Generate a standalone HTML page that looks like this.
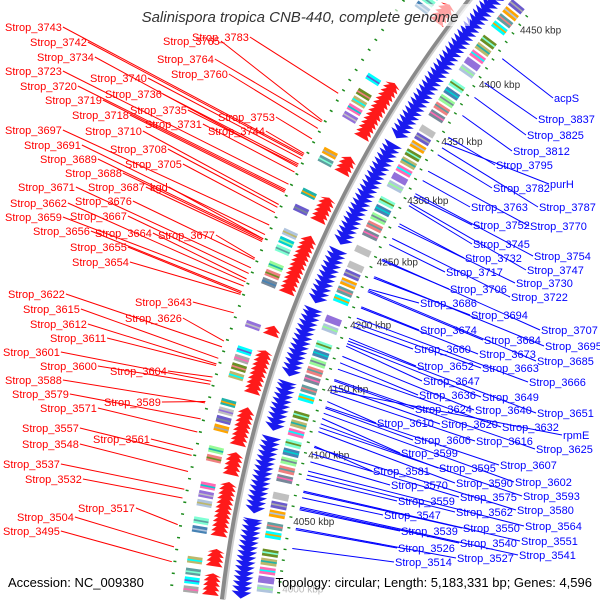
<!DOCTYPE html>
<html><head><meta charset="utf-8"><style>
html,body{margin:0;padding:0;background:#fff;overflow:hidden;width:600px;height:600px;}
svg{display:block;font-family:"Liberation Sans",sans-serif;overflow:hidden;}
</style></head><body>
<svg id="map" width="600" height="600" viewBox="0 0 600 600" xmlns="http://www.w3.org/2000/svg">
<g id="rings"></g>
<g id="lines"></g>
<g id="labels"></g>
<rect x="130" y="4" width="340" height="22" fill="#fff" opacity="0.6"/>
<text x="300" y="22" text-anchor="middle" font-size="15" font-style="italic" fill="#333">Salinispora tropica CNB-440, complete genome</text>
<text x="8" y="587" font-size="13" fill="#000">Accession: NC_009380</text>
<text x="592" y="587" text-anchor="end" font-size="13" fill="#000">Topology: circular; Length: 5,183,331 bp; Genes: 4,596</text>
</svg>
<script>
// genome positions (kbp)
const redSegments = [[4418,4431],[4323,4365],[4295,4306],[4258,4274],[4204,4245],[4173,4178],[4131,4160],[4094,4119],[4073,4087],[4030,4066],[4009,4019],[3989,4002]];
const blueSegments = [[4335,4465],[4250,4331],[4205,4246],[4150,4201],[4110,4146],[4050,4106],[3989,4046]];
const kbpTicks = [4000,4050,4100,4150,4200,4250,4300,4350,4400,4450];
const redNames = ["Strop_3743","Strop_3742","Strop_3765","Strop_3783","Strop_3734","Strop_3764","Strop_3723","Strop_3760","Strop_3740","Strop_3720","Strop_3736","Strop_3719","Strop_3735","Strop_3718","Strop_3753","Strop_3731","Strop_3697","Strop_3710","Strop_3744","Strop_3691","Strop_3708","Strop_3689","Strop_3705","Strop_3688","Strop_3671","Strop_3687","kgd","Strop_3676","Strop_3662","Strop_3667","Strop_3659","Strop_3664","Strop_3677","Strop_3656","Strop_3655","Strop_3654","Strop_3622","Strop_3643","Strop_3615","Strop_3626","Strop_3612","Strop_3611","Strop_3601","Strop_3600","Strop_3604","Strop_3588","Strop_3579","Strop_3589","Strop_3571","Strop_3557","Strop_3561","Strop_3548","Strop_3537","Strop_3532","Strop_3517","Strop_3504","Strop_3495"];
const redKbp = [4294,4293,4320,4341,4285,4319,4272,4314,4291,4268,4287,4267,4286,4266,4306,4281,4242,4257,4295,4235,4255,4232,4251,4231,4211,4230,4232,4217,4201,4207,4198,4203,4218,4194,4193,4192,4155,4179,4147,4159,4143,4142,4131,4129,4134,4116,4105,4117,4096,4080,4084,4069,4057,4051,4033,4018,4008];
const redLabelX = [5,30,163,192,37,157,5,171,90,20,105,45,130,72,218,145,5,85,208,24,110,40,125,65,18,88,150,75,10,70,5,95,158,33,70,72,8,135,23,125,30,50,3,40,110,5,12,104,40,22,93,22,3,25,78,17,3];
const redLabelY = [27,42,41,37,57,59,71,74,78,86,94,100,110,115,117,124,130,131,131,145,149,159,164,173,187,187,187,201,203,216,217,233,235,231,247,262,294,302,309,318,324,338,352,366,371,380,394,402,408,428,439,444,464,479,508,517,531];
const blueNames = ["acpS","Strop_3837","Strop_3825","Strop_3812","Strop_3795","purH","Strop_3782","Strop_3787","Strop_3763","Strop_3752","Strop_3770","Strop_3745","Strop_3754","Strop_3732","Strop_3747","Strop_3717","Strop_3730","Strop_3706","Strop_3722","Strop_3686","Strop_3694","Strop_3707","Strop_3674","Strop_3684","Strop_3695","Strop_3660","Strop_3673","Strop_3685","Strop_3652","Strop_3663","Strop_3647","Strop_3666","Strop_3636","Strop_3649","Strop_3624","Strop_3640","Strop_3651","Strop_3610","Strop_3620","Strop_3632","rpmE","Strop_3606","Strop_3616","Strop_3625","Strop_3599","Strop_3595","Strop_3607","Strop_3581","Strop_3590","Strop_3602","Strop_3570","Strop_3593","Strop_3575","Strop_3559","Strop_3562","Strop_3580","Strop_3547","Strop_3564","Strop_3550","Strop_3539","Strop_3551","Strop_3540","Strop_3526","Strop_3541","Strop_3527","Strop_3514"];
const blueKbp = [4425,4403,4390,4374,4355,4350,4340,4346,4318,4305,4326,4297,4307,4282,4299,4265,4280,4252,4270,4229,4238,4253,4215,4227,4239,4199,4214,4228,4190,4202,4184,4206,4171,4186,4157,4176,4188,4141,4153,4166,4150,4136,4148,4158,4128,4124,4137,4107,4118,4132,4095,4121,4101,4082,4085,4106,4068,4088,4072,4059,4073,4060,4044,4061,4045,4030];
const blueLabelX = [554,538,527,513,496,550,493,539,471,473,530,473,534,465,527,446,516,450,511,420,471,541,420,484,545,414,479,537,417,482,423,529,419,482,415,475,537,377,441,502,563,414,476,536,401,439,500,373,456,515,391,523,460,398,456,517,384,525,463,401,521,460,398,519,457,395];
const blueLabelY = [98,119,135,151,165,184,188,207,207,225,226,244,256,258,270,272,283,289,297,303,315,330,330,340,346,349,354,361,366,368,381,382,395,397,409,410,413,423,424,427,435,440,441,449,453,468,465,471,483,482,485,496,497,501,512,510,515,526,528,531,541,543,548,555,558,562];

const NS = "http://www.w3.org/2000/svg";
const CX = 1407.5, CY = 736.75, R = 1193;
function ang(k){ return (10.96 + (k - 4050) * 0.069) * Math.PI / 180; }
function pt(k, r){ const a = ang(k); return [CX - r * Math.cos(a), CY - r * Math.sin(a)]; }
function mk(tag, attrs, parent){ const e = document.createElementNS(NS, tag); for (const k in attrs) e.setAttribute(k, attrs[k]); parent.appendChild(e); return e; }
const rings = document.getElementById('rings'), lines = document.getElementById('lines'), labels = document.getElementById('labels');
const palette = ["#4682b4","#7fffd4","#00ced1","#b0c4de","#9370db","#ff69b4","#bdb76b","#6b8e23","#a9a9a9","#00ffff","#5f9ea0","#ffa500","#6a5acd","#c0c0c0","#20b2aa","#778899","#f08080","#98fb98"];

// backbone
{
  let d = "";
  for (let k = 3987; k <= 4480; k += 5) { const p = pt(k, R); d += (k === 3987 ? "M" : "L") + p[0].toFixed(1) + " " + p[1].toFixed(1); }
  const bb = mk('path', {d: d, fill: "none", stroke: "#8a8a8a", "stroke-width": 5}, rings);
  
  
  const bb2 = mk('path', {d: d, fill: "none", stroke: "#cfcfcf", "stroke-width": 2, transform: "translate(2.5,0)"}, rings);
  
  
}
function poly(pts, fill, parent){ return mk('polygon', {points: pts.map(p => p[0].toFixed(1) + "," + p[1].toFixed(1)).join(" "), fill: fill}, parent); }
function box(k1, k2, r1, r2, fill, parent){ return poly([pt(k1, r1), pt(k2, r1), pt(k2, r2), pt(k1, r2)], fill, parent); }

let ci = 0;
// red (reverse strand) arrows + boxes
redSegments.forEach((s, i) => {
  const g = mk('g', {}, rings);
  
  
  const len = Math.max(s[1] - s[0], 3);
  for (let k = s[0]; k < s[0] + len; k += 3.2) {
    const k2 = Math.min(k + 6, s[0] + len + 2);
    const r1 = R + 4, r2 = R + 21, m = (r1 + r2) / 2;
    poly([pt(k, r1), pt(k2, m), pt(k, r2)], "#ff1a1a", g);
  }
  for (let k = s[0]; k < s[1]; k += 6) {
    if ((ci % 5) !== 3) {
      const c1 = palette[(ci) % palette.length], c2 = palette[(ci * 7 + 3) % palette.length];
      box(k, k + 4.5, R + 25, R + 40, c1, g);
      box(k + 1.5, k + 2.6, R + 25, R + 40, c2, g);
    }
    ci++;
  }
});
// blue (forward strand) arrows + boxes
blueSegments.forEach((s, i) => {
  const g = mk('g', {}, rings);
  
  
  for (let k = s[0]; k < s[1] - 2; k += 3.6) {
    const k2 = Math.min(k + 5, s[1]);
    const r1 = R - 8, r2 = R - 28, m = (r1 + r2) / 2;
    poly([pt(k2, r1), pt(k2, r2), pt(k, m)], "#1a1aee", g);
  }
  for (let k = s[0]; k < s[1]; k += 6.5) {
    if ((ci % 6) !== 2) {
      const c1 = palette[(ci) % palette.length], c2 = palette[(ci * 5 + 2) % palette.length];
      box(k, k + 5, R - 33, R - 49, c1, g);
      box(k + 2, k + 3.2, R - 33, R - 49, c2, g);
    }
    ci++;
  }
});
// green marker dots
for (let k = 3992; k <= 4460; k += 8) {
  const a = pt(k, R + 52), b = pt(k + 1, R + 52);
  const d1 = mk('line', {x1: a[0], y1: a[1], x2: b[0], y2: b[1], stroke: "#1a8a1a", "stroke-width": 3}, rings);
  
  
  const c = pt(k + 4, R - 55), e = pt(k + 5, R - 55);
  const d2 = mk('line', {x1: c[0], y1: c[1], x2: e[0], y2: e[1], stroke: "#1a8a1a", "stroke-width": 3}, rings);
  
  
}
// kbp tick labels
kbpTicks.forEach(k => {
  const p = pt(k, R - 58);
  const t = mk('text', {x: p[0].toFixed(1), y: (p[1] + 4).toFixed(1), "font-size": 10, fill: k === 4000 ? "#bbb" : "#333"}, rings);
  t.textContent = k + " kbp";
  
  
});
// red labels
redNames.forEach((n, i) => {
  const t = mk('text', {x: redLabelX[i], y: redLabelY[i] + 4, "font-size": 11, fill: "#ff0000"}, labels);
  t.textContent = n;
  
  
  const w = t.getComputedTextLength ? t.getComputedTextLength() : n.length * 6;
  const p = pt(redKbp[i], R + 55);
  const l = mk('line', {x1: redLabelX[i] + w + 1, y1: redLabelY[i], x2: p[0].toFixed(1), y2: p[1].toFixed(1), stroke: "#ff0000", "stroke-width": 1}, lines);
  
  
});
// blue labels
blueNames.forEach((n, i) => {
  const t = mk('text', {x: blueLabelX[i], y: blueLabelY[i] + 4, "font-size": 11, fill: "#0000ff"}, labels);
  t.textContent = n;
  
  
  const p = pt(blueKbp[i], R - 62);
  const l = mk('line', {x1: p[0].toFixed(1), y1: p[1].toFixed(1), x2: blueLabelX[i] - 1, y2: blueLabelY[i], stroke: "#0000ff", "stroke-width": 1}, lines);
  
  
});
</script>
</body></html>
